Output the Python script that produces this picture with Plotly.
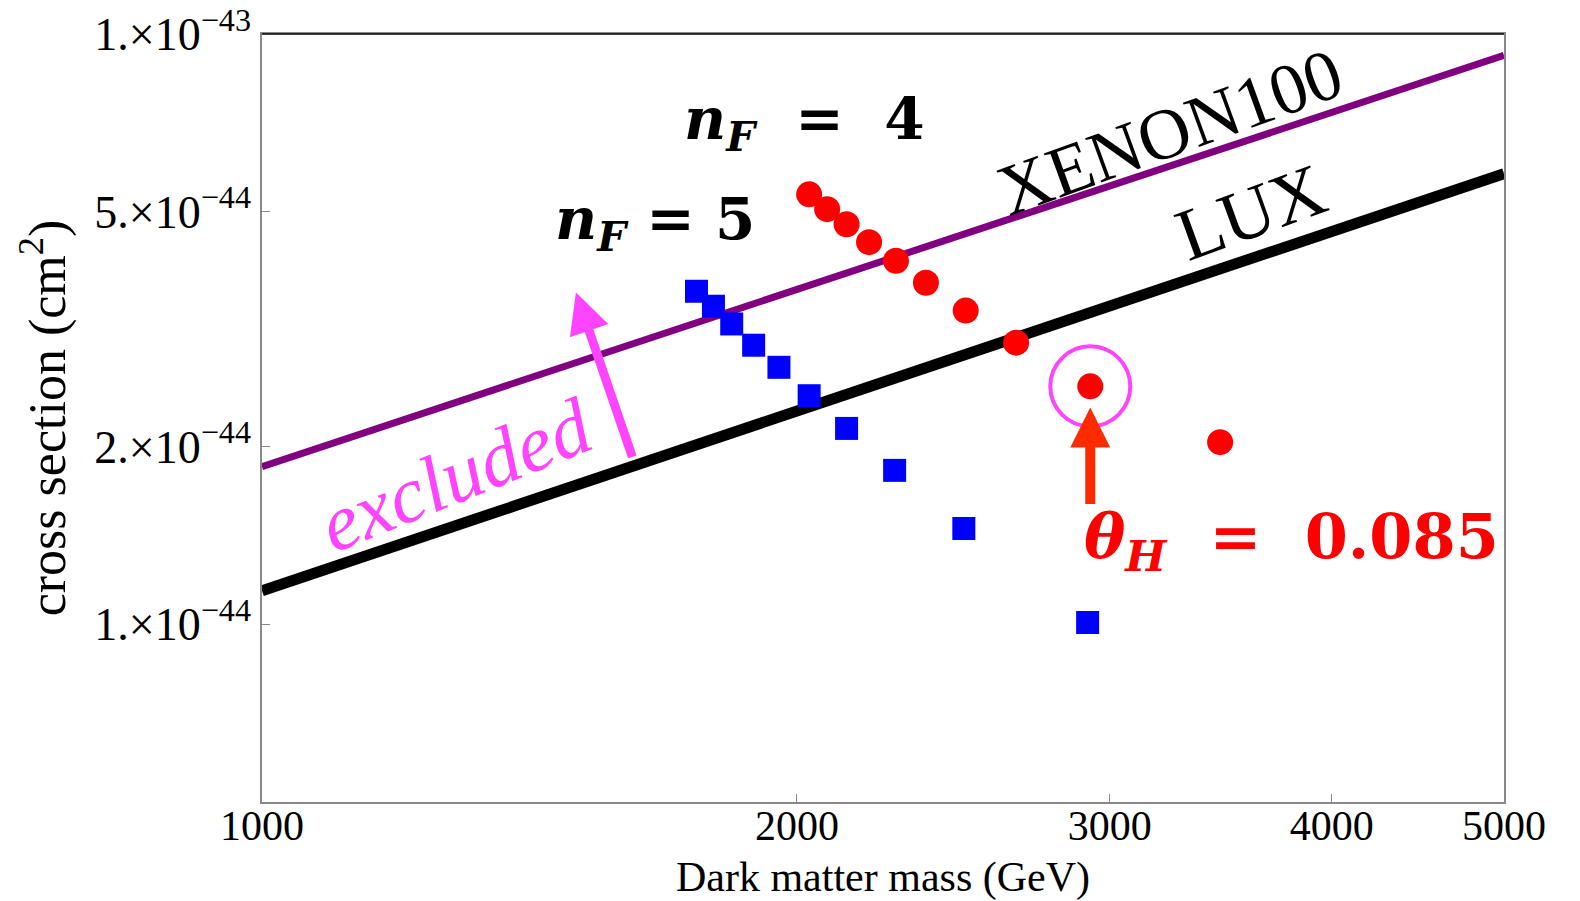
import numpy as np
import plotly.graph_objects as go

# ---- data ----
limit_mass = [1000, 5000]
xenon100 = [1.85e-44, 9.2e-44]
lux = [1.14e-44, 5.8e-44]

nf4_mass = [2032, 2080, 2133, 2196, 2274, 2364, 2489, 2657, 2925, 3461]
nf4_sigma = [5.35e-44, 5.05e-44, 4.76e-44, 4.44e-44, 4.13e-44, 3.79e-44, 3.40e-44, 3.00e-44, 2.53e-44, 2.035e-44]

nf5_mass = [1756, 1795, 1838, 1891, 1954, 2032, 2133, 2270, 2483, 2915]
nf5_sigma = [3.666e-44, 3.458e-44, 3.227e-44, 2.97e-44, 2.725e-44, 2.439e-44, 2.147e-44, 1.823e-44, 1.453e-44, 1.007e-44]

highlight_index = 8  # theta_H = 0.085 point

x_ticks = [1000, 2000, 3000, 4000, 5000]
x_ticklabels = ["1000", "2000", "3000", "4000", "5000"]
y_ticks = [1e-43, 5e-44, 2e-44, 1e-44]
y_ticklabels = ["1.×10<sup>−43</sup>", "5.×10<sup>−44</sup>", "2.×10<sup>−44</sup>", "1.×10<sup>−44</sup>"]

SERIF = "Liberation Serif, Times New Roman, serif"
MATH = "DejaVu Serif, serif"
L = np.log10

fig = go.Figure()
fig.add_trace(go.Scatter(x=limit_mass, y=xenon100, mode="lines",
                         line=dict(color="#800080", width=7), showlegend=False))
fig.add_trace(go.Scatter(x=limit_mass, y=lux, mode="lines",
                         line=dict(color="black", width=11), showlegend=False))
fig.add_trace(go.Scatter(x=nf5_mass, y=nf5_sigma, mode="markers",
                         marker=dict(symbol="square", size=23, color="#0000ff", line=dict(width=0)),
                         showlegend=False))
fig.add_trace(go.Scatter(x=nf4_mass, y=nf4_sigma, mode="markers",
                         marker=dict(symbol="circle", size=26, color="#ff0000", line=dict(width=0)),
                         showlegend=False))
fig.add_trace(go.Scatter(x=[nf4_mass[highlight_index]], y=[nf4_sigma[highlight_index]], mode="markers",
                         marker=dict(symbol="circle-open", size=80, color="#ff44ff", line=dict(width=4, color="#ff44ff")),
                         showlegend=False))

ann = []
# arrows
ann.append(dict(x=L(1502), y=L(3.65e-44), ax=L(1617), ay=L(1.91e-44), xref="x", yref="y",
                axref="x", ayref="y", text="", showarrow=True, arrowhead=2, arrowsize=0.9,
                arrowwidth=9, arrowcolor="#ff44ff"))
ann.append(dict(x=L(nf4_mass[highlight_index]), y=L(2.33e-44), ax=L(nf4_mass[highlight_index]), ay=L(1.59e-44),
                xref="x", yref="y", axref="x", ayref="y", text="", showarrow=True, arrowhead=2,
                arrowsize=0.8, arrowwidth=10, arrowcolor="#ff2a00"))
# texts
ann.append(dict(x=L(2021), y=L(7.06e-44), xref="x", yref="y", showarrow=False,
                text="<b><i>n</i><sub><i>F</i></sub>  =  4</b>", font=dict(family=MATH, size=58, color="black")))
ann.append(dict(x=L(1664), y=L(4.78e-44), xref="x", yref="y", showarrow=False,
                text="<b><i>n</i><sub><i>F</i></sub> = 5</b>", font=dict(family=MATH, size=58, color="black")))
ann.append(dict(x=L(3798), y=L(1.387e-44), xref="x", yref="y", showarrow=False,
                text="<b><i>θ</i><sub><i>H</i></sub>  =  0.085</b>", font=dict(family=MATH, size=62, color="#ff0000")))
ann.append(dict(x=L(3244), y=L(6.82e-44), xref="x", yref="y", showarrow=False, textangle=-20,
                text="XENON100", font=dict(family=SERIF, size=72, color="black")))
ann.append(dict(x=L(3601), y=L(4.99e-44), xref="x", yref="y", showarrow=False, textangle=-20,
                text="LUX", font=dict(family=SERIF, size=74, color="black")))
ann.append(dict(x=L(1285), y=L(1.79e-44), xref="x", yref="y", showarrow=False, textangle=-22,
                text="<i>excluded</i>", font=dict(family=SERIF, size=80, color="#ff44ff")))

fig.update_layout(
    width=1580, height=901,
    margin=dict(l=262, r=76, t=34, b=99),
    paper_bgcolor="white", plot_bgcolor="white",
    annotations=ann,
    shapes=[dict(type="line", xref="paper", yref="paper", x0=0, x1=1, y0=1, y1=1,
                 line=dict(color="black", width=1.5))],
)
fig.update_xaxes(type="log", range=[3, L(5000)], tickvals=x_ticks, ticktext=x_ticklabels,
                 automargin=False,
                 showgrid=False, zeroline=False, showline=True, linecolor="#888888", linewidth=1.5,
                 mirror=True, ticks="inside", ticklen=8, tickcolor="#888888",
                 tickfont=dict(family=SERIF, size=42, color="black"), ticklabelstandoff=-14,
                 title=dict(text="Dark matter mass (GeV)", font=dict(family=SERIF, size=42, color="black"),
                            standoff=14))
fig.update_yaxes(type="log", range=[L(5e-45), -43], tickvals=y_ticks, ticktext=y_ticklabels,
                 automargin=False,
                 showgrid=False, zeroline=False, showline=True, linecolor="#888888", linewidth=1.5,
                 mirror=True, ticks="inside", ticklen=8, tickcolor="#888888",
                 tickfont=dict(family=SERIF, size=46, color="black"),
                 title=dict(text="cross section (cm<sup>2</sup>)", font=dict(family=SERIF, size=52, color="black"),
                            standoff=12))

fig.write_html("out.html")
